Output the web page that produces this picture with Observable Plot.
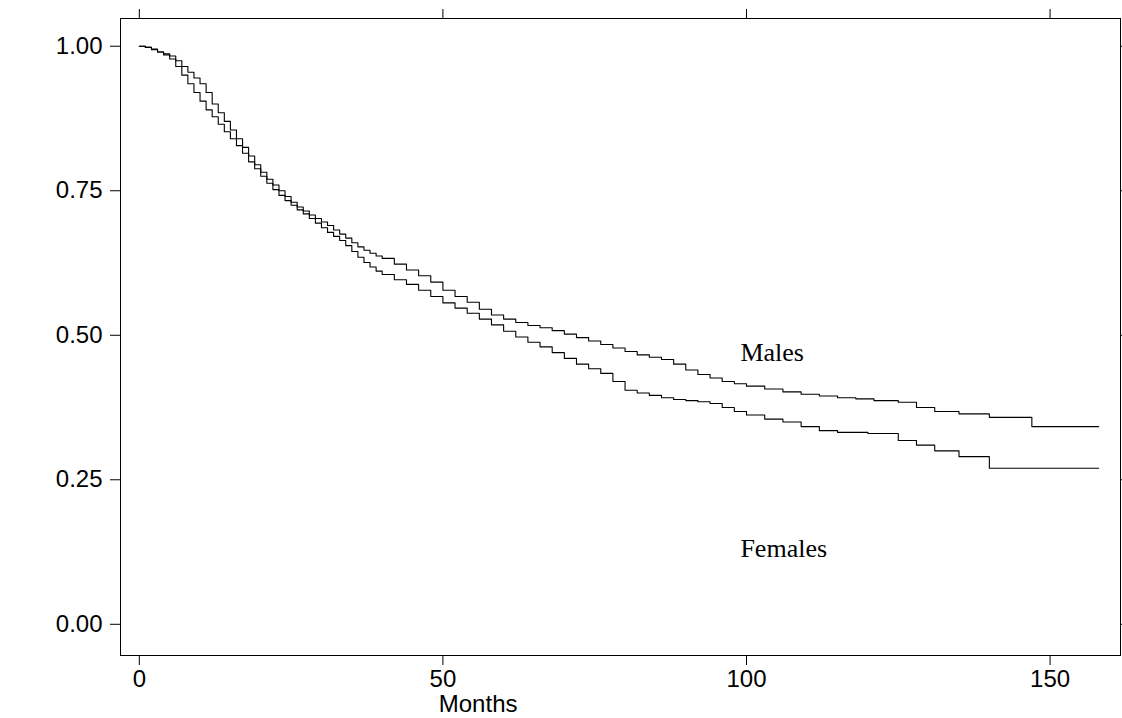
<!DOCTYPE html>
<html>
<head>
<script src="https://cdn.jsdelivr.net/npm/d3@7"></script>
<script src="https://cdn.jsdelivr.net/npm/@observablehq/plot@0.6"></script>
<style>body{margin:0;background:#fff}</style>
</head>
<body>
<div id="chart"></div>
<script>
// survival curves
const months  = [0, 1, 2, 3, 4, 5, 6, 7, 8, 9, 10, 11, 12, 13, 14, 15, 16, 17, 18, 19, 20, 21, 22, 23, 24, 25, 26, 27, 28, 29, 30, 31, 32, 33, 34, 35, 36, 37, 38, 39, 40, 42, 44, 46, 48, 50, 52, 54, 56, 58, 60, 62, 64, 66, 68, 70, 72, 74, 76, 78, 80, 82, 84, 86, 88, 90, 92, 94, 96, 98, 100, 103, 106, 109, 112, 115, 118, 121, 125, 128, 131, 135, 140, 147, 158];
const males   = [1.0, 0.998, 0.995, 0.99, 0.987, 0.983, 0.975, 0.965, 0.955, 0.945, 0.935, 0.92, 0.9, 0.885, 0.87, 0.855, 0.84, 0.825, 0.81, 0.795, 0.782, 0.77, 0.76, 0.75, 0.74, 0.73, 0.722, 0.715, 0.708, 0.702, 0.696, 0.69, 0.682, 0.675, 0.668, 0.66, 0.653, 0.647, 0.642, 0.637, 0.633, 0.623, 0.613, 0.603, 0.592, 0.578, 0.567, 0.557, 0.545, 0.535, 0.528, 0.522, 0.517, 0.513, 0.508, 0.502, 0.496, 0.49, 0.484, 0.478, 0.472, 0.466, 0.462, 0.458, 0.45, 0.44, 0.432, 0.426, 0.42, 0.416, 0.412, 0.407, 0.402, 0.398, 0.395, 0.392, 0.39, 0.387, 0.384, 0.375, 0.368, 0.364, 0.358, 0.342, 0.342];
const monthsF = [0, 1, 2, 3, 4, 5, 6, 7, 8, 9, 10, 11, 12, 13, 14, 15, 16, 17, 18, 19, 20, 21, 22, 23, 24, 25, 26, 27, 28, 29, 30, 31, 32, 33, 34, 35, 36, 37, 38, 39, 40, 42, 44, 46, 48, 50, 52, 54, 56, 58, 60, 62, 64, 66, 68, 70, 72, 74, 76, 78, 80, 82, 84, 86, 88, 90, 92, 94, 96, 98, 100, 103, 106, 109, 112, 115, 120, 125, 128, 131, 135, 140, 158];
const females = [1.0, 0.998, 0.994, 0.99, 0.985, 0.978, 0.965, 0.95, 0.935, 0.92, 0.905, 0.89, 0.878, 0.865, 0.852, 0.84, 0.828, 0.815, 0.8, 0.788, 0.775, 0.763, 0.752, 0.742, 0.733, 0.725, 0.717, 0.71, 0.702, 0.694, 0.686, 0.678, 0.671, 0.664, 0.655, 0.645, 0.635, 0.626, 0.618, 0.611, 0.605, 0.596, 0.588, 0.578, 0.567, 0.556, 0.547, 0.538, 0.528, 0.518, 0.507, 0.497, 0.488, 0.48, 0.47, 0.46, 0.45, 0.442, 0.434, 0.42, 0.405, 0.4, 0.396, 0.392, 0.389, 0.387, 0.385, 0.382, 0.375, 0.368, 0.362, 0.355, 0.35, 0.342, 0.335, 0.332, 0.33, 0.318, 0.31, 0.3, 0.29, 0.27, 0.27];
const labels = [{t: "Males", x: 99, y: 0.47}, {t: "Females", x: 99, y: 0.13}];

const m = months.map((x, i) => ({x, y: males[i]}));
const f = monthsF.map((x, i) => ({x, y: females[i]}));
const blank = () => "";

const chart = Plot.plot({
  width: 1122,
  height: 718,
  marginLeft: 120, marginRight: 2, marginTop: 18, marginBottom: 63,
  style: {fontFamily: "Liberation Sans, Arial", fontSize: "24px", color: "#000"},
  x: {domain: [-3.1, 161.6]},
  y: {domain: [-0.054, 1.048]},
  marks: [
    Plot.frame({stroke: "#000"}),
    Plot.axisX({anchor: "bottom", ticks: [0, 50, 100, 150], tickSize: 10, tickPadding: 4, label: null}),
    Plot.axisX({anchor: "top", ticks: [0, 50, 100, 150], tickSize: 10, tickFormat: blank, label: null}),
    Plot.axisY({anchor: "left", ticks: [0, 0.25, 0.5, 0.75, 1], tickSize: 10, tickPadding: 8, tickFormat: d3.format(".2f"), label: null}),
    Plot.axisY({anchor: "right", ticks: [0, 0.25, 0.5, 0.75, 1], tickSize: 10, tickFormat: blank, label: null}),
    Plot.line(m, {x: "x", y: "y", curve: "step-after", stroke: "#000", strokeWidth: 1.1}),
    Plot.line(f, {x: "x", y: "y", curve: "step-after", stroke: "#000", strokeWidth: 1.1}),
    Plot.text(labels, {x: "x", y: "y", text: "t", textAnchor: "start", fontFamily: "Liberation Serif, Times New Roman", fontSize: 26}),
    Plot.text(["Months"], {x: 55.8, frameAnchor: "bottom", dy: 56, lineAnchor: "bottom", fontSize: 24})
  ]
});
document.getElementById("chart").append(chart);
</script>
</body>
</html>
